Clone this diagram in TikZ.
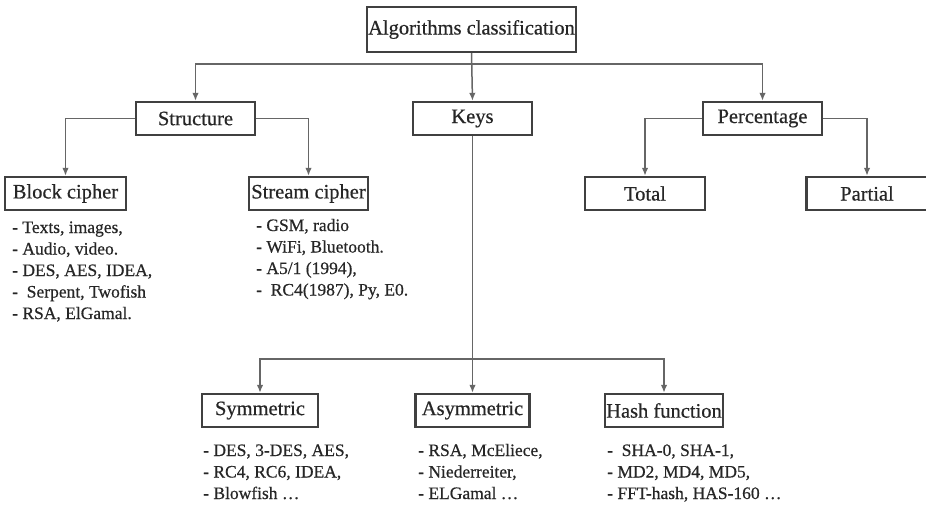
\documentclass[tikz,border=0pt]{standalone}
\usepackage{fontspec}
\setmainfont{Liberation Serif}
\newfontfamily\heavyfont{Liberation Serif}[FakeBold=0.5]
\usetikzlibrary{calc,arrows.meta}
\tikzset{>={Latex[length=8pt,width=6.5pt]}}
\colorlet{boxline}{black!75}
\colorlet{wire}{black!60}
\colorlet{ink}{black!85}
\tikzstyle{box}=[draw=boxline,line width=2.4pt,fill=white,inner sep=0pt,minimum width=119pt,minimum height=33pt,text=ink,font=\heavyfont\fontsize{20.5}{24}\selectfont]
\tikzstyle{link}=[->,line width=1.5pt,wire]
\tikzstyle{item}=[inner sep=0pt,anchor=base west,text=ink,font=\heavyfont\fontsize{17.5}{21}\selectfont]
\newcommand{\itemlist}[3]{% name, first baseline, lines
  \foreach \txt [count=\k] in {#3}
    \node[item] (#1-\k) at ($(#2)+(0,{(\k-1)*21.5})$) {\txt};
}

\begin{document}
\begin{tikzpicture}[x=1pt,y=-1pt]
  \useasboundingbox (0,0) rectangle (926,507);

  % BOXES
  \node[box,minimum width=209pt,minimum height=45pt] (alg) at (471.5,29.5) {Algorithms classification};
  \node[box] (struct) at (195.5,118.5) {Structure};
  \node[box] (keys)   at (472.5,118.5) {Keys};
  \node[box] (perc)   at (762.5,118.5) {Percentage};
  \node[box,minimum width=121pt] (block)   at (65.5,193.5)  {Block cipher};
  \node[box]                     (stream)  at (308.5,193.5) {Stream cipher};
  \node[box,minimum width=120pt] (total)   at (645,193.5)   {Total};
  \node[box,minimum width=121pt] (partial) at (867,193.5)   {Partial};
  \node[box,minimum width=116pt] (sym)  at (260,410.5)   {Symmetric};
  \node[box,minimum width=114pt] (asym) at (472.5,410.5) {Asymmetric};
  \node[box,minimum width=118pt] (hash) at (664,410.5)   {Hash function};

  % CONNECTORS
  \coordinate (bus)   at ($(alg.south)+(0,11)$);
  \coordinate (kbusy) at (0,359);
  \coordinate (kbus)  at (keys.south |- kbusy);
  \draw[link] (alg.south) -- (keys.north);
  \draw[link] (bus) -| (struct.north);
  \draw[link] (bus) -| (perc.north);
  \draw[link] (struct.west) -| (block.north);
  \draw[link] (struct.east) -| (stream.north);
  \draw[link] (perc.west) -| (total.north);
  \draw[link] (perc.east) -| (partial.north);
  \draw[link] (keys.south) -- (asym.north);
  \draw[link] (kbus) -| (sym.north);
  \draw[link] (kbus) -| (hash.north);

  % LISTS
  \coordinate (blkL)  at (12,233);
  \coordinate (strL)  at (256,231);
  \coordinate (symL)  at (203,456);
  \coordinate (asymL) at (418,456);
  \coordinate (hashL) at (607,456);
  \itemlist{blk}{blkL}{{- Texts, images,},{- Audio, video.},{- DES, AES, IDEA,},{-~~Serpent, Twofish},{- RSA, ElGamal.}}
  \itemlist{str}{strL}{{- GSM, radio},{- WiFi, Bluetooth.},{- A5/1 (1994),},{-~~RC4(1987), Py, E0.}}
  \itemlist{sy}{symL}{{- DES, 3-DES, AES,},{- RC4, RC6, IDEA,},{- Blowfish \ldots}}
  \itemlist{as}{asymL}{{- RSA, McEliece,},{- Niederreiter,},{- ELGamal \ldots}}
  \itemlist{hs}{hashL}{{-~~SHA-0, SHA-1,},{- MD2, MD4, MD5,},{- FFT-hash, HAS-160 \ldots}}
\end{tikzpicture}
\end{document}
